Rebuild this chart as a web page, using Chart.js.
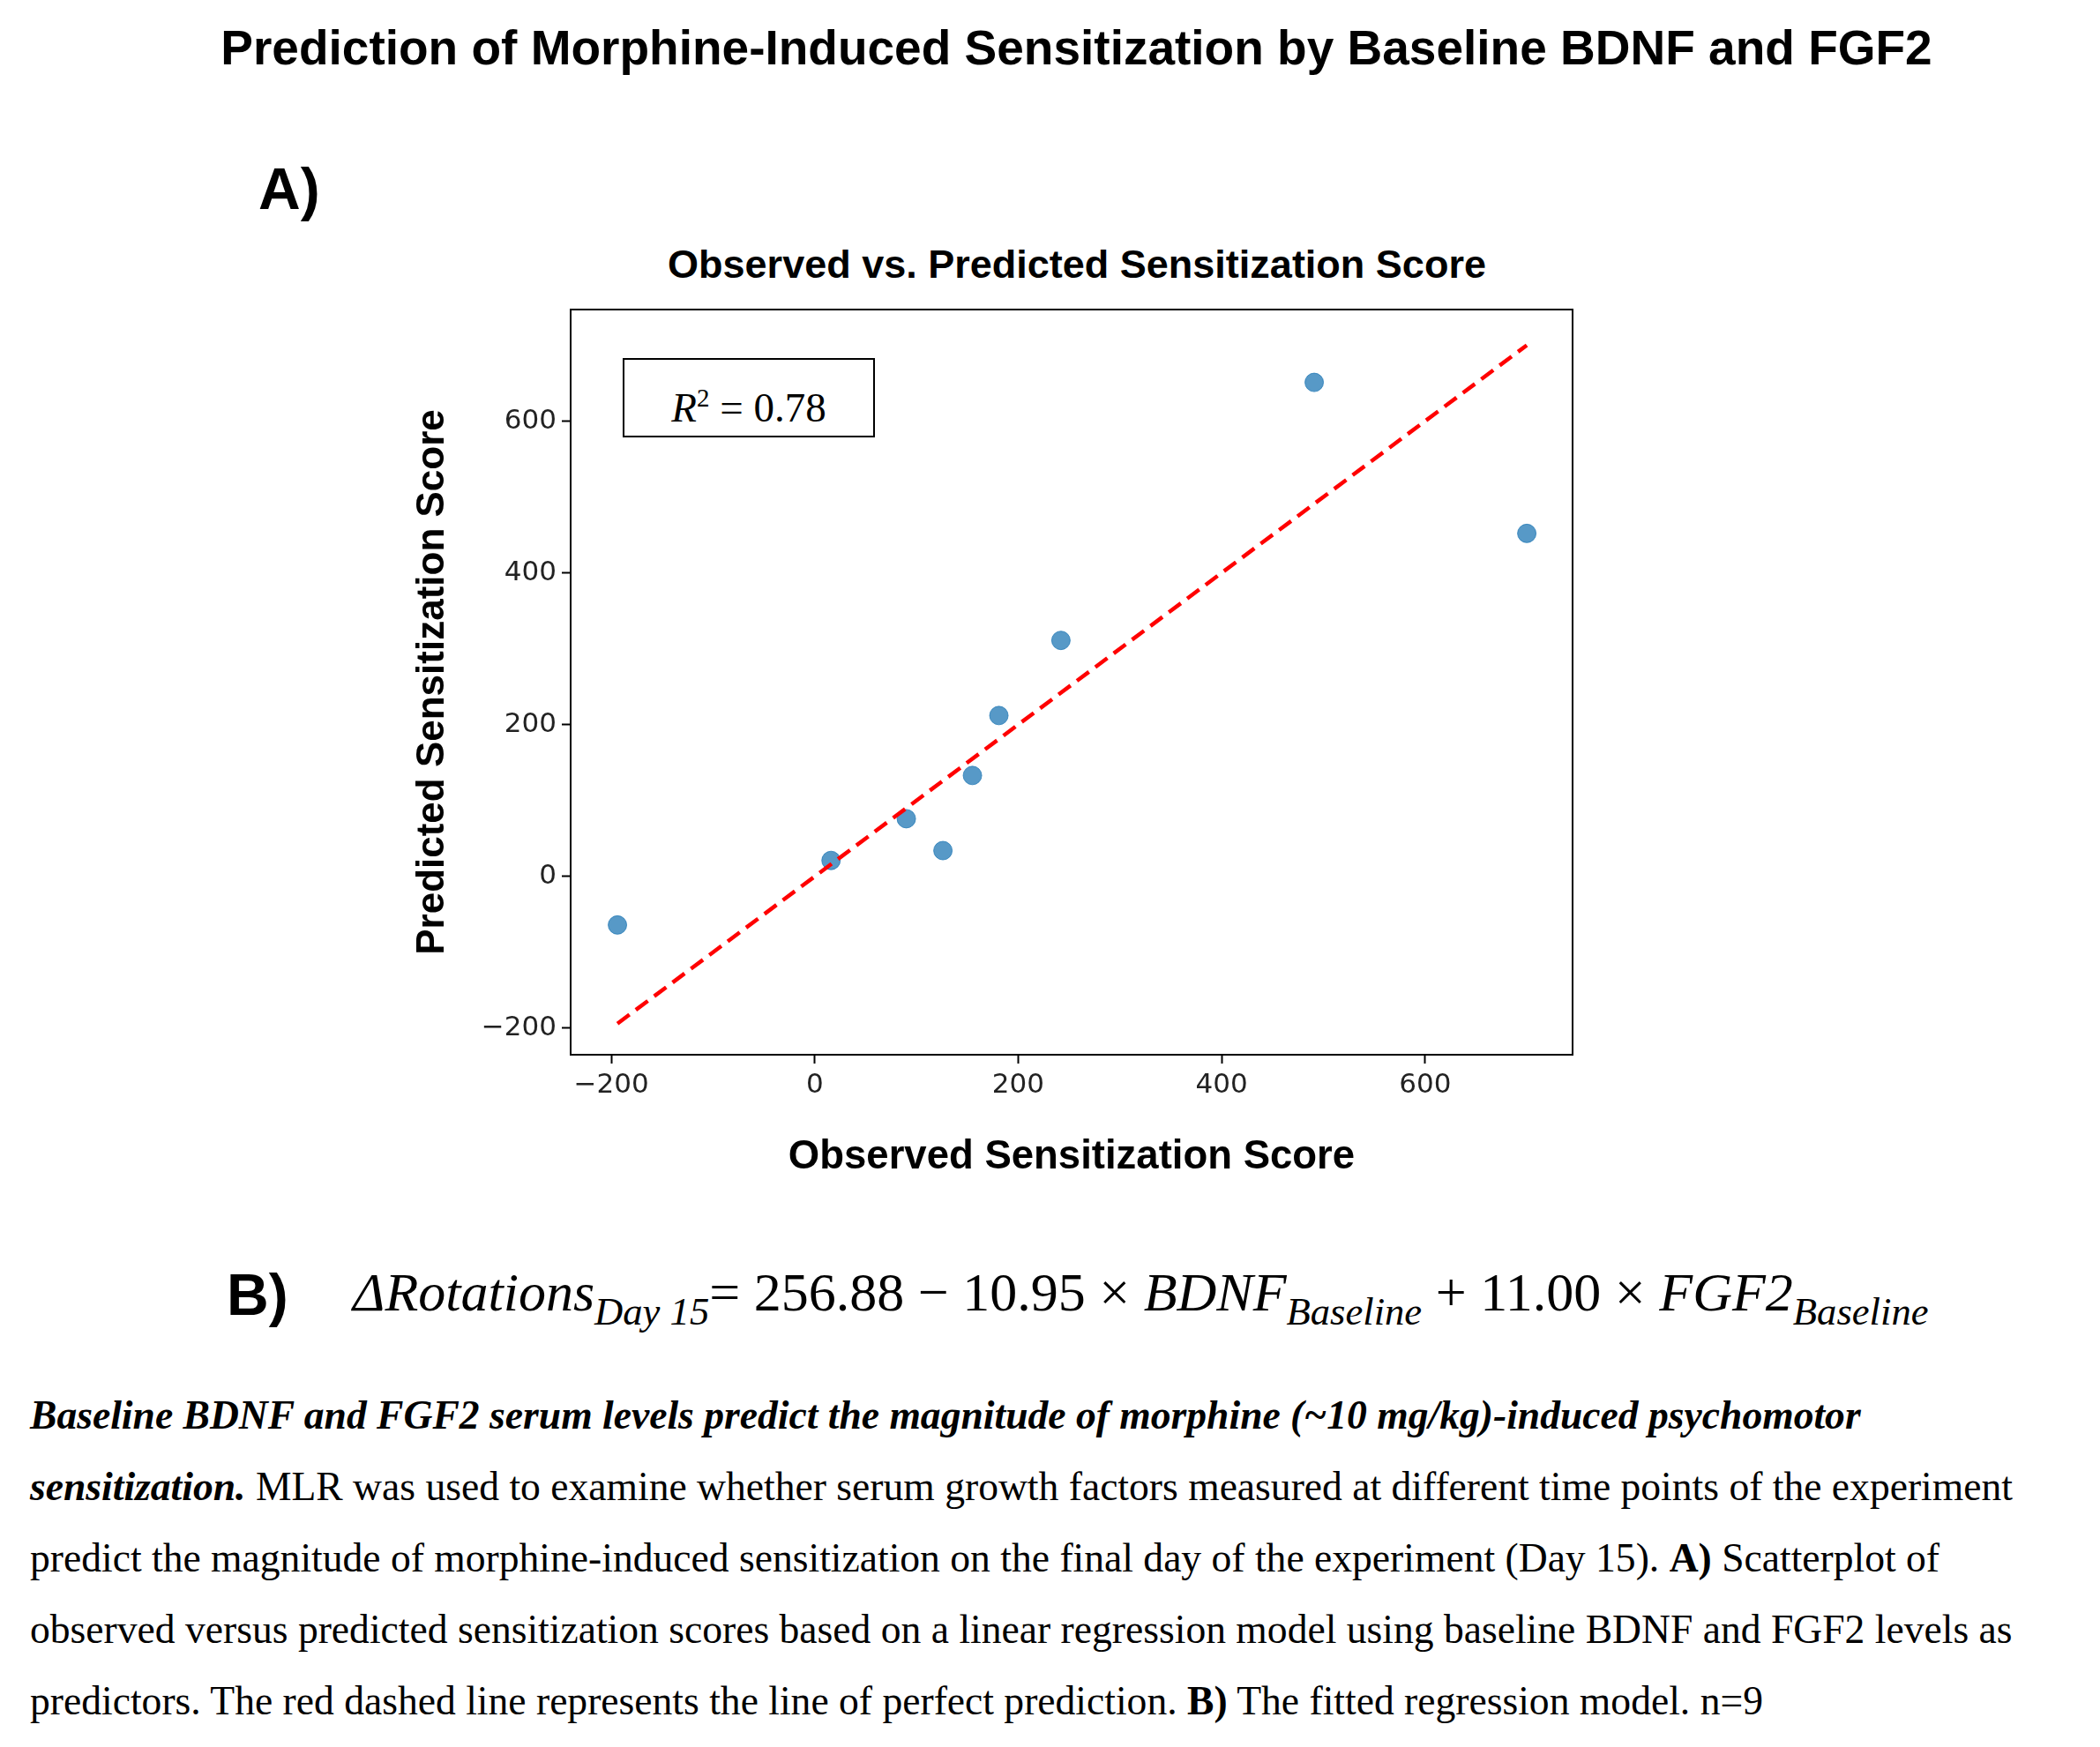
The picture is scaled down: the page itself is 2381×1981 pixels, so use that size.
<!DOCTYPE html>
<html>
<head>
<meta charset="utf-8">
<script src="https://cdn.jsdelivr.net/npm/chart.js@4.4.0/dist/chart.umd.min.js"></script>
<style>
  body { margin: 0; background: #fff; width: 2381px; height: 1981px; position: relative; overflow: hidden; }
  .abs { position: absolute; white-space: nowrap; }
  .sans { font-family: "Liberation Sans", Arial, sans-serif; font-weight: bold; color: #000; }
  .serif { font-family: "Liberation Serif", "Times New Roman", serif; color: #000; }
  .cap { left: 34px; font-size: 45.6px; }
  .eq { font-style: italic; }
  .eq sub { font-size: 0.72em; vertical-align: -0.35em; }
</style>
</head>
<body>
<div class="abs sans" style="left:30px;width:2381px;text-align:center;top:22px;font-size:55px;">Prediction of Morphine-Induced Sensitization by Baseline BDNF and FGF2</div>
<div class="abs sans" style="left:293px;top:176px;font-size:66px;">A)</div>
<div class="abs sans" style="left:650px;width:1142px;text-align:center;top:274px;font-size:45px;">Observed vs. Predicted Sensitization Score</div>
<canvas id="chart" width="1400" height="1100" style="position:absolute;left:440px;top:270px;"></canvas>
<div class="abs serif" style="left:706px;top:406px;width:282px;height:86px;border:2px solid #000;background:#fff;text-align:center;line-height:86px;font-size:47px;"><i>R</i><sup style="font-size:29px;">2</sup> = 0.78</div>
<div class="abs sans" style="left:257px;top:1430px;font-size:66px;">B)</div>
<div class="abs serif eq" style="left:400px;top:1430px;font-size:62px;">ΔRotations<sub>Day 15</sub><span style="font-style:normal">= 256.88 − 10.95 × </span>BDNF<sub>Baseline</sub><span style="font-style:normal"> + 11.00 × </span>FGF2<sub>Baseline</sub></div>
<div class="abs serif cap" style="top:1578px;"><b><i>Baseline BDNF and FGF2 serum levels predict the magnitude of morphine (~10 mg/kg)-induced psychomotor</i></b></div>
<div class="abs serif cap" style="top:1659px;"><b><i>sensitization.</i></b> MLR was used to examine whether serum growth factors measured at different time points of the experiment</div>
<div class="abs serif cap" style="top:1740px;">predict the magnitude of morphine-induced sensitization on the final day of the experiment (Day 15). <b>A)</b> Scatterplot of</div>
<div class="abs serif cap" style="top:1821px;">observed versus predicted sensitization scores based on a linear regression model using baseline BDNF and FGF2 levels as</div>
<div class="abs serif cap" style="top:1902px;">predictors. The red dashed line represents the line of perfect prediction. <b>B)</b> The fitted regression model. n=9</div>
<script>
const observed = [-194, 16, 90, 126, 155, 181, 242, 491, 700];
const predicted = [-64, 21, 76, 34, 133, 212, 311, 651, 452];
const identityLine = [-194, 700];
const tickValues = [-200, 0, 200, 400, 600];

const points = observed.map((x, i) => ({ x: x, y: predicted[i] }));
const linePoints = identityLine.map(v => ({ x: v, y: v }));

const frame = {
  id: 'frame',
  afterDraw(chart) {
    const a = chart.chartArea, ctx = chart.ctx;
    ctx.save();
    ctx.strokeStyle = '#000';
    ctx.lineWidth = 2;
    ctx.strokeRect(a.left, a.top, a.right - a.left, a.bottom - a.top);
    ctx.restore();
  }
};

const tickFont = { family: 'DejaVu Sans', size: 31 };
const fmt = v => String(v).replace('-', '\u2212');

new Chart(document.getElementById('chart'), {
  type: 'scatter',
  data: {
    datasets: [{
      data: linePoints,
      type: 'line',
      borderColor: '#ff0000',
      borderWidth: 4.5,
      borderDash: [17, 9],
      pointRadius: 0,
      fill: false
    }, {
      data: points,
      backgroundColor: 'rgba(31,119,180,0.75)',
      borderColor: 'rgba(31,119,180,0.75)',
      pointRadius: 10.5,
      pointHoverRadius: 10.5
    }]
  },
  options: {
    responsive: false,
    animation: false,
    devicePixelRatio: 1,
    layout: { padding: { top: 81, right: 57, left: 20, bottom: 26 } },
    plugins: { legend: { display: false }, tooltip: { enabled: false } },
    scales: {
      x: {
        type: 'linear', min: -240, max: 745,
        afterBuildTicks: s => { s.ticks = tickValues.map(v => ({ value: v })); },
        afterFit: s => { s.height = 148; },
        grid: { drawOnChartArea: false, tickLength: 10, color: '#000', tickWidth: 2 },
        border: { display: false },
        ticks: { font: tickFont, color: '#222', padding: 6, callback: fmt, maxRotation: 0 },
        title: { display: true, text: 'Observed Sensitization Score', color: '#000',
                 font: { family: 'Liberation Sans', weight: 'bold', size: 45.5 }, padding: { top: 0 } }
      },
      y: {
        type: 'linear', min: -235, max: 747,
        afterBuildTicks: s => { s.ticks = tickValues.map(v => ({ value: v })); },
        afterFit: s => { s.width = 187; },
        grid: { drawOnChartArea: false, tickLength: 10, color: '#000', tickWidth: 2 },
        border: { display: false },
        ticks: { font: tickFont, color: '#222', padding: 6, callback: fmt },
        title: { display: true, text: 'Predicted Sensitization Score', color: '#000',
                 font: { family: 'Liberation Sans', weight: 'bold', size: 44 }, padding: { bottom: 4 } }
      }
    }
  },
  plugins: [frame]
});
</script>
</body>
</html>
